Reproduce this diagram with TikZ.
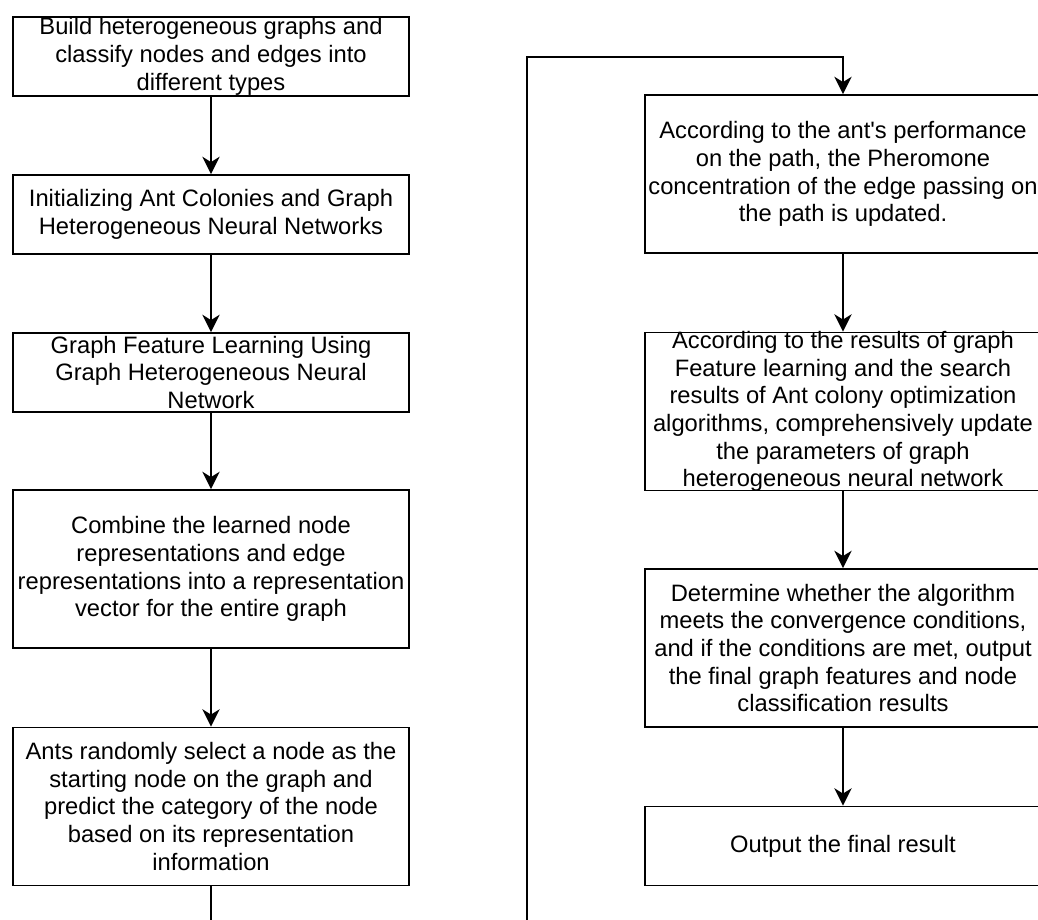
\documentclass[tikz,border=0pt]{standalone}
\usepackage{fontspec}
\setmainfont{Liberation Sans}[Ligatures=TeXOff]
\usetikzlibrary{arrows.meta}

\newcommand{\boxfont}{\fontsize{17.8}{20.8}\selectfont}

\begin{document}
\begin{tikzpicture}[x=0.75pt,y=-0.75pt,
    stepbox/.style={draw,line width=1.4pt,minimum width=297pt,inner sep=0pt},
    shortbox/.style={stepbox,minimum height=59.25pt},
    tallbox/.style={stepbox,minimum height=118.5pt},
    every label/.style={align=center,font=\boxfont,inner sep=0pt},
    arrow/.style={line width=1.4pt,-{Stealth[length=13pt,width=13pt,inset=4pt]}}]

    % cadre (image coupée à droite et en bas)
    \useasboundingbox (0,0) rectangle (1038,920);

    % ---- Colonne de gauche ----
    \node[shortbox,label={center:{Build heterogeneous graphs and\\classify nodes and edges into\\different types}}]
      (build) at (211,56.5) {};
    \node[shortbox,label={center:{Initializing Ant Colonies and Graph\\Heterogeneous Neural Networks}}]
      (init) at (211,214.5) {};
    \node[shortbox,label={center:{Graph Feature Learning Using\\Graph Heterogeneous Neural\\Network}}]
      (learn) at (211,372.5) {};
    \node[tallbox,label={center:{Combine the learned node\\representations and edge\\representations into a representation\\vector for the entire graph}}]
      (combine) at (211,569) {};
    \node[tallbox,label={center:{Ants randomly select a node as the\\starting node on the graph and\\predict the category of the node\\based on its representation\\information}}]
      (ants) at (211,806.5) {};

    % ---- Colonne de droite ----
    \node[tallbox,label={center:{According to the ant's performance\\on the path, the Pheromone\\concentration of the edge passing on\\the path is updated.}}]
      (pheromone) at (843,174) {};
    \node[tallbox,label={center:{According to the results of graph\\Feature learning and the search\\results of Ant colony optimization\\algorithms, comprehensively update\\the parameters of graph\\heterogeneous neural network}}]
      (update) at (843,411.5) {};
    \node[tallbox,label={center:{Determine whether the algorithm\\meets the convergence conditions,\\and if the conditions are met, output\\the final graph features and node\\classification results}}]
      (converge) at (843,648) {};
    \node[shortbox,label={center:{Output the final result}}]
      (result) at (843,846) {};

    % Fleches
    \foreach \a/\b in {build/init,init/learn,learn/combine,combine/ants,
                       pheromone/update,update/converge,converge/result}{
      \draw[arrow] (\a) -- (\b);
    }

    % Boucle vers la colonne de droite
    \coordinate (loopbot) at (527,960);
    \coordinate (looptop) at (527,57);
    \draw[arrow] (ants.south) |- (loopbot) -- (looptop) -| (pheromone.north);

  \end{tikzpicture}
\end{document}
